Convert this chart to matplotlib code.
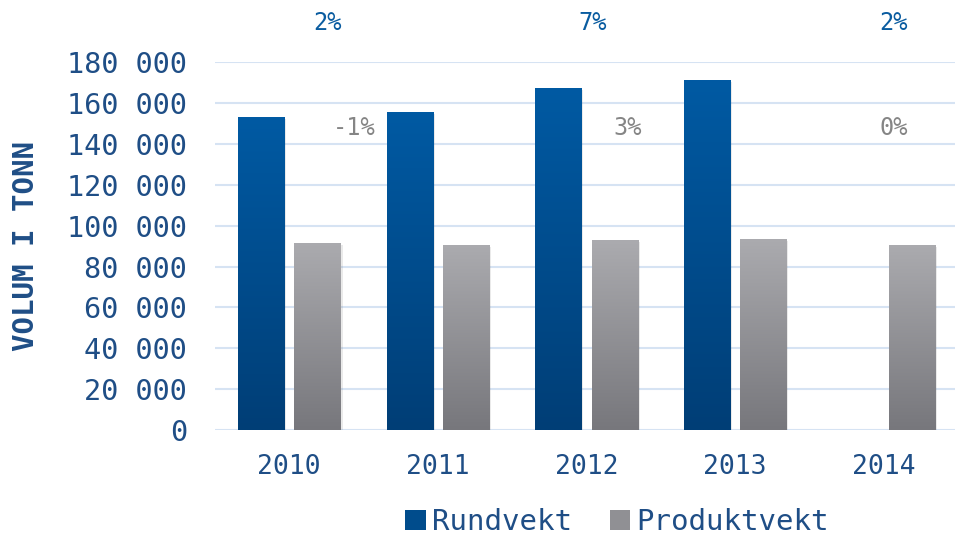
import numpy as np
import matplotlib
matplotlib.use('Agg')
import matplotlib.pyplot as plt
from matplotlib.colors import LinearSegmentedColormap
from matplotlib.patches import Patch
import matplotlib.patheffects as pe

# --- данные --- #
years = ['2010', '2011', '2012', '2013', '2014']
rundvekt = [153000, 155500, 167300, 171200, np.nan]
produktvekt = [91500, 90500, 92900, 93400, 90500]

# подписи изменений (позиция по оси категорий, значение по y, текст)
blue_lbl_x = [0.26, 2.04, 4.07]
blue_lbl_txt = ['2%', '7%', '2%']
grey_lbl_x = [0.44, 2.28, 4.07]
grey_lbl_txt = ['-1%', '3%', '0%']

tick_col = '#1F4E86'
grid_col = '#D6E3F3'
font = 'DejaVu Sans Mono'

blue_cmap = LinearSegmentedColormap.from_list('b', ['#003E76', '#005AA3'])
grey_cmap = LinearSegmentedColormap.from_list('g', ['#77777C', '#ABABAF'])

fig = plt.figure(figsize=(9.55, 5.37), dpi=100)
ax = fig.add_axes([0.225, 0.199, 0.778, 0.6855])

x = np.arange(len(years))
w = 0.31
off = 0.19

def grad_bars(xs, vals, cmap):
    bars = ax.bar(xs, vals, w, color='none', edgecolor='none', zorder=3)
    grad = np.linspace(1, 0, 256).reshape(-1, 1)
    for b in bars:
        h = b.get_height()
        if np.isnan(h) or h == 0:
            continue
        x0 = b.get_x()
        ax.bar(x0 + w / 2, h, w, color='white', zorder=2,
               path_effects=[pe.SimplePatchShadow(offset=(1.5, -1.5), alpha=0.12,
                                                  shadow_rgbFace='#555555')])
        im = ax.imshow(grad, extent=[x0, x0 + w, 0, h], aspect='auto', cmap=cmap,
                       vmin=0, vmax=1, zorder=3)
        im.set_clip_path(b)
    return bars

b1 = grad_bars(x - off, rundvekt, blue_cmap)
b2 = grad_bars(x + off, produktvekt, grey_cmap)

ax.set_xlim(-0.5, len(years) - 0.5)
ax.set_ylim(0, 180000)
ax.set_yticks(np.arange(0, 180001, 20000))
ax.set_yticklabels([f'{v:,}'.replace(',', ' ') for v in range(0, 180001, 20000)])
ax.set_xticks(x)
ax.set_xticklabels(years)
ax.grid(axis='y', color=grid_col, linewidth=1.5, zorder=0)
ax.set_axisbelow(True)
for s in ax.spines.values():
    s.set_visible(False)
ax.tick_params(length=0, labelcolor=tick_col)
ax.tick_params(axis='x', pad=17, labelsize=19)
ax.tick_params(axis='y', pad=20, labelsize=20.5)
for lab in ax.get_xticklabels() + ax.get_yticklabels():
    lab.set_fontfamily(font)

ax.set_ylabel('VOLUM I TONN', fontsize=21, fontweight='bold', color=tick_col,
              fontfamily=font)
ax.yaxis.set_label_coords(-0.235, 0.5)

for xi, t in zip(blue_lbl_x, blue_lbl_txt):
    ax.text(xi, 199000, t, ha='center', va='center', fontsize=17, color='#0A5CA0',
            fontfamily=font, clip_on=False)
for xi, t in zip(grey_lbl_x, grey_lbl_txt):
    ax.text(xi, 147500, t, ha='center', va='center', fontsize=17, color='#858585',
            fontfamily=font, zorder=5)

handles = [Patch(facecolor='#004C8C', label='Rundvekt'),
           Patch(facecolor='#909094', label='Produktvekt')]
leg = fig.legend(handles=handles, loc='center', bbox_to_anchor=(0.646, 0.028), ncol=2,
                 frameon=False, handlelength=0.7, handleheight=0.7, handletextpad=0.2,
                 columnspacing=1.3, prop={'family': font, 'size': 21})
for t in leg.get_texts():
    t.set_color(tick_col)

fig.savefig('out.png', dpi=100)
